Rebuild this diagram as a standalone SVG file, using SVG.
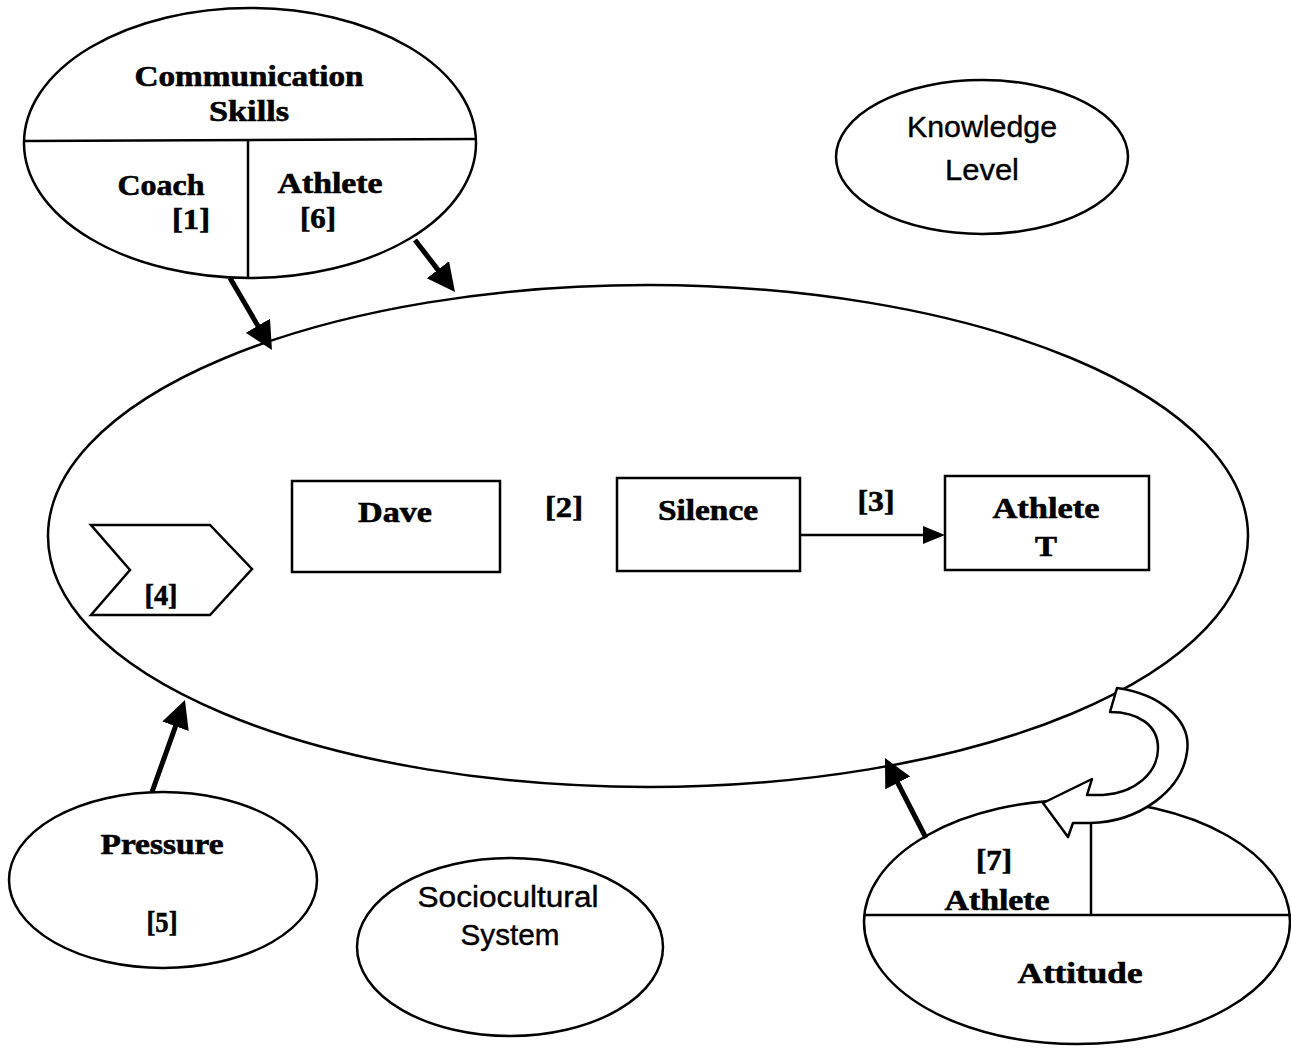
<svg xmlns="http://www.w3.org/2000/svg" width="1291" height="1048" viewBox="0 0 1291 1048">
<style>
.shape{fill:#fff;stroke:#000;stroke-width:2.5}
.ln{fill:none;stroke:#000;stroke-width:2.5}
.b{font-family:"Liberation Serif",serif;font-weight:bold;font-size:29px;fill:#000;stroke:#000;stroke-width:0.6}
.r{font-family:"Liberation Sans",Arial,sans-serif;font-size:29px;fill:#000;stroke:#000;stroke-width:0.4}
.thick{stroke:#000;stroke-width:5;fill:none}
.thin{stroke:#000;stroke-width:2.5;fill:none}
</style>
<defs>
<marker id="bigHead" markerUnits="userSpaceOnUse" markerWidth="30" markerHeight="30" refX="8" refY="14" orient="auto">
<path d="M0,0 L28,14 L0,28 Z" fill="#000"/>
</marker>
<marker id="smallHead" markerUnits="userSpaceOnUse" markerWidth="24" markerHeight="20" refX="2" refY="9" orient="auto">
<path d="M0,0 L22,9 L0,18 Z" fill="#000"/>
</marker>
</defs>
<rect width="1291" height="1048" fill="#fff"/>

<g id="context">
<ellipse class="shape" cx="648" cy="536" rx="600" ry="251"/>
</g>

<g id="communication-skills">
<ellipse class="shape" cx="250" cy="143" rx="226" ry="135"/>
<line class="ln" x1="25" y1="141" x2="475" y2="139"/>
<line class="ln" x1="248" y1="140" x2="248" y2="277"/>
<text class="b" x="249" y="86" text-anchor="middle" textLength="229" lengthAdjust="spacingAndGlyphs">Communication</text>
<text class="b" x="249" y="121" text-anchor="middle" textLength="80" lengthAdjust="spacingAndGlyphs">Skills</text>
<text class="b" x="161" y="195" text-anchor="middle" textLength="87" lengthAdjust="spacingAndGlyphs">Coach</text>
<text class="b" x="191" y="229" text-anchor="middle" textLength="38" lengthAdjust="spacingAndGlyphs">[1]</text>
<text class="b" x="330" y="193" text-anchor="middle" textLength="105" lengthAdjust="spacingAndGlyphs">Athlete</text>
<text class="b" x="318" y="228" text-anchor="middle" textLength="36" lengthAdjust="spacingAndGlyphs">[6]</text>
</g>

<g id="knowledge-level">
<ellipse class="shape" cx="982" cy="157" rx="146" ry="77"/>
<text class="r" x="982" y="137" text-anchor="middle" textLength="150" lengthAdjust="spacingAndGlyphs">Knowledge</text>
<text class="r" x="982" y="180" text-anchor="middle" textLength="74" lengthAdjust="spacingAndGlyphs">Level</text>
</g>

<g id="dave">
<rect class="shape" x="292" y="481" width="208" height="91"/>
<text class="b" x="395" y="522" text-anchor="middle" textLength="74" lengthAdjust="spacingAndGlyphs">Dave</text>
</g>

<g id="label-2">
<text class="b" x="564" y="517" text-anchor="middle" textLength="38" lengthAdjust="spacingAndGlyphs">[2]</text>
</g>

<g id="silence">
<rect class="shape" x="617" y="478" width="183" height="93"/>
<text class="b" x="708" y="520" text-anchor="middle" textLength="100" lengthAdjust="spacingAndGlyphs">Silence</text>
</g>

<g id="label-3">
<text class="b" x="876" y="511" text-anchor="middle" textLength="37" lengthAdjust="spacingAndGlyphs">[3]</text>
</g>

<g id="athlete-t">
<rect class="shape" x="945" y="476" width="204" height="94"/>
<text class="b" x="1046" y="518" text-anchor="middle" textLength="107" lengthAdjust="spacingAndGlyphs">Athlete</text>
<text class="b" x="1046" y="556" text-anchor="middle" textLength="22" lengthAdjust="spacingAndGlyphs">T</text>
</g>

<g id="step-4">
<polygon class="shape" points="91,525 210,525 252,569 210,615 91,615 130,570"/>
<text class="b" x="161" y="605" text-anchor="middle" textLength="33" lengthAdjust="spacingAndGlyphs">[4]</text>
</g>

<g id="pressure">
<ellipse class="shape" cx="163" cy="880" rx="154" ry="88"/>
<text class="b" x="162" y="854" text-anchor="middle" textLength="123" lengthAdjust="spacingAndGlyphs">Pressure</text>
<text class="b" x="162" y="932" text-anchor="middle" textLength="31" lengthAdjust="spacingAndGlyphs">[5]</text>
</g>

<g id="sociocultural-system">
<ellipse class="shape" cx="510" cy="947" rx="153" ry="89"/>
<text class="r" x="508" y="907" text-anchor="middle" textLength="181" lengthAdjust="spacingAndGlyphs">Sociocultural</text>
<text class="r" x="510" y="945" text-anchor="middle" textLength="99" lengthAdjust="spacingAndGlyphs">System</text>
</g>

<g id="athlete-attitude">
<ellipse class="shape" cx="1077" cy="922" rx="213" ry="122"/>
<line class="ln" x1="865" y1="915" x2="1291" y2="915"/>
<line class="ln" x1="1091" y1="820" x2="1091" y2="915"/>
<text class="b" x="994" y="870" text-anchor="middle" textLength="36" lengthAdjust="spacingAndGlyphs">[7]</text>
<text class="b" x="997" y="910" text-anchor="middle" textLength="105" lengthAdjust="spacingAndGlyphs">Athlete</text>
<text class="b" x="1080" y="983" text-anchor="middle" textLength="125" lengthAdjust="spacingAndGlyphs">Attitude</text>
</g>

<g id="connectors">
<line class="thick" x1="230" y1="278" x2="261.9" y2="332.7" marker-end="url(#bigHead)"/>
<line class="thick" x1="415" y1="240" x2="442.8" y2="276.1" marker-end="url(#bigHead)"/>
<line class="thick" x1="152" y1="792" x2="178.2" y2="718.8" marker-end="url(#bigHead)"/>
<line class="thick" x1="926" y1="838" x2="894.1" y2="775.8" marker-end="url(#bigHead)"/>
<line class="thin" x1="800" y1="535" x2="925" y2="535" marker-end="url(#smallHead)"/>
<path class="shape" stroke-linejoin="round" d="M1117,688 C1160,694 1192,720 1187,752 C1182,790 1140,822 1090,823 L1073,823 L1068,837 L1043,803 L1092,779 L1087,795 L1103,795 C1135,793 1158,773 1158,748 C1158,725 1138,712 1110,712 Z"/>
</g>
</svg>
